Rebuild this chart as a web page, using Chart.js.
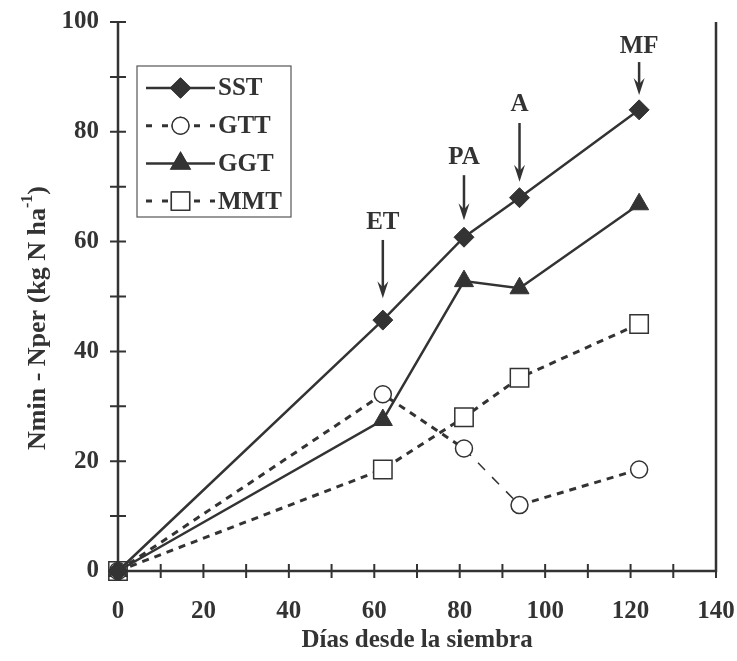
<!DOCTYPE html>
<html>
<head>
<meta charset="utf-8">
<script src="https://cdn.jsdelivr.net/npm/chart.js@4.4.0/dist/chart.umd.min.js"></script>
<style>
  html, body { margin: 0; padding: 0; background: #fff; }
  #wrap { width: 737px; height: 661px; }
</style>
</head>
<body>
<div id="wrap"><canvas id="nChart"></canvas></div>
<script>
// data
const days = [0, 62, 81, 94, 122];
const sst = [0, 45.7, 60.8, 68.0, 84.0];
const gtt = [0, 32.2, 22.3, 12.0, 18.5];
const ggt = [0, 27.5, 52.8, 51.5, 66.8];
const mmt = [0, 18.5, 28.0, 35.2, 45.0];

// growth stages marked with arrows
const stageLabels = ['ET', 'PA', 'A', 'MF'];
const stageDays = [62, 81, 94, 122];
const stageTip = [49.7, 63.9, 70.9, 86.7];
const stageTail = [60.3, 72.1, 81.6, 92.7];
const stageText = [63.4, 75.4, 85.0, 95.6];

const ink = '#333333';
const serif = '"Liberation Serif", "Times New Roman", serif';

function pts(vals) {
    return days.map((d, i) => ({ x: d, y: vals[i] }));
}

// axis frame with ticks crossing the axis lines
const framePlugin = {
    id: 'frame',
    beforeDatasetsDraw(chart) {
        const { ctx, chartArea: a, scales: { x, y } } = chart;
        ctx.save();
        ctx.strokeStyle = ink;
        ctx.lineWidth = 2.5;
        ctx.beginPath();
        ctx.moveTo(a.left, a.top);
        ctx.lineTo(a.left, a.bottom);
        ctx.lineTo(a.right, a.bottom);
        ctx.lineTo(a.right, a.top);
        ctx.stroke();
        ctx.lineWidth = 2;
        ctx.beginPath();
        x.ticks.forEach(t => {
            const px = x.getPixelForValue(t.value);
            ctx.moveTo(px, a.bottom - 7);
            ctx.lineTo(px, a.bottom + 7);
        });
        y.ticks.forEach(t => {
            const py = y.getPixelForValue(t.value);
            ctx.moveTo(a.left - 8, py);
            ctx.lineTo(a.left + 8, py);
        });
        ctx.stroke();
        ctx.restore();
    },
    afterDraw(chart) {
        const { ctx, chartArea: a, scales: { x, y } } = chart;
        ctx.save();
        ctx.fillStyle = ink;
        ctx.strokeStyle = ink;

        // y axis title with superscript
        const big = 'bold 26px ' + serif;
        const small = 'bold 16px ' + serif;
        const p1 = 'Nmin - Nper (kg N ha', p2 = '-1', p3 = ')';
        ctx.font = big;
        const w1 = ctx.measureText(p1).width, w3 = ctx.measureText(p3).width;
        ctx.font = small;
        const w2 = ctx.measureText(p2).width;
        const total = w1 + w2 + w3;
        ctx.translate(38, 318);
        ctx.rotate(-Math.PI / 2);
        ctx.textBaseline = 'middle';
        ctx.textAlign = 'left';
        let cx = -total / 2;
        ctx.font = big;
        ctx.fillText(p1, cx, 0);
        cx += w1;
        ctx.font = small;
        ctx.fillText(p2, cx, -10);
        cx += w2;
        ctx.font = big;
        ctx.fillText(p3, cx, 0);
        ctx.setTransform(1, 0, 0, 1, 0, 0);

        // stage arrows
        ctx.font = 'bold 25px ' + serif;
        ctx.textAlign = 'center';
        ctx.textBaseline = 'middle';
        ctx.lineWidth = 2.5;
        stageLabels.forEach((lab, i) => {
            const px = x.getPixelForValue(stageDays[i]);
            const tip = y.getPixelForValue(stageTip[i]);
            const tail = y.getPixelForValue(stageTail[i]);
            ctx.beginPath();
            ctx.moveTo(px, tail);
            ctx.lineTo(px, tip - 8);
            ctx.stroke();
            ctx.beginPath();
            ctx.moveTo(px, tip);
            ctx.lineTo(px - 5.5, tip - 17);
            ctx.lineTo(px, tip - 11);
            ctx.lineTo(px + 5.5, tip - 17);
            ctx.closePath();
            ctx.fill();
            ctx.fillText(lab, px, y.getPixelForValue(stageText[i]));
        });

        // legend box
        const bx = 137, by = 66, bw = 154, bh = 151;
        ctx.lineWidth = 1.2;
        ctx.strokeStyle = '#555';
        ctx.strokeRect(bx, by, bw, bh);
        ctx.strokeStyle = ink;
        chart.data.datasets.forEach((ds, i) => {
            const ly = 88 + i * 37.7;
            ctx.save();
            ctx.lineWidth = ds.borderWidth;
            if (ds.borderDash) {
                ctx.setLineDash([6, 10]);
            }
            ctx.beginPath();
            ctx.moveTo(146, ly);
            ctx.lineTo(215, ly);
            ctx.stroke();
            ctx.restore();
            Chart.helpers.drawPoint(ctx, {
                pointStyle: ds.pointStyle,
                radius: ds.pointRadius,
                borderWidth: ds.pointBorderWidth,
                rotation: 0
            }, 180.5, ly);
            ctx.fillStyle = ds.pointBackgroundColor;
            ctx.strokeStyle = ink;
            ctx.lineWidth = ds.pointBorderWidth;
            ctx.fill();
            ctx.stroke();
            ctx.fillStyle = ink;
            ctx.textAlign = 'left';
            ctx.font = 'bold 25px ' + serif;
            ctx.fillText(ds.label, 218, ly + 1);
        });
        ctx.restore();
    }
};

const ctx = document.getElementById('nChart').getContext('2d');
const nChart = new Chart(ctx, {
    type: 'line',
    data: {
        datasets: [{
            label: 'SST',
            data: pts(sst),
            borderColor: ink,
            borderWidth: 2.5,
            pointStyle: 'rectRot',
            pointRadius: 10,
            pointBackgroundColor: ink,
            pointBorderColor: ink,
            pointBorderWidth: 1
        }, {
            label: 'GTT',
            data: pts(gtt),
            borderColor: ink,
            borderWidth: 3,
            borderDash: [7, 6],
            // the 81 -> 94 stretch is drawn thinner in the original
            segment: {
                borderWidth: c => (c.p0DataIndex === 2 ? 1.5 : undefined),
                borderDash: c => (c.p0DataIndex === 2 ? [10, 10] : undefined)
            },
            pointStyle: 'circle',
            pointRadius: 8.5,
            pointBackgroundColor: '#ffffff',
            pointBorderColor: ink,
            pointBorderWidth: 1.5
        }, {
            label: 'GGT',
            data: pts(ggt),
            borderColor: ink,
            borderWidth: 2.5,
            pointStyle: 'triangle',
            pointRadius: 11,
            pointBackgroundColor: ink,
            pointBorderColor: ink,
            pointBorderWidth: 1
        }, {
            label: 'MMT',
            data: pts(mmt),
            borderColor: ink,
            borderWidth: 3,
            borderDash: [7, 6],
            pointStyle: 'rect',
            pointRadius: 13,
            pointBackgroundColor: '#ffffff',
            pointBorderColor: ink,
            pointBorderWidth: 1.5
        }]
    },
    options: {
        responsive: true,
        maintainAspectRatio: false,
        devicePixelRatio: 1,
        animation: false,
        clip: false,
        layout: { padding: { top: 22, right: 21, left: 0, bottom: 0 } },
        plugins: {
            legend: { display: false },
            tooltip: { enabled: false }
        },
        scales: {
            x: {
                type: 'linear',
                min: 0,
                max: 140,
                grid: { display: false },
                border: { display: false },
                afterFit: s => {
                    s.height = 90;
                    s.paddingLeft = 0;
                    s.paddingRight = 0;
                },
                ticks: {
                    stepSize: 10,
                    padding: 18,
                    color: ink,
                    maxRotation: 0,
                    autoSkip: false,
                    font: { family: serif, size: 25, weight: 'bold' },
                    callback: v => (v % 20 === 0 ? v : '')
                },
                title: {
                    display: true,
                    text: 'Días desde la siembra',
                    color: ink,
                    font: { family: serif, size: 25, weight: 'bold' },
                    padding: { top: 0, bottom: 5 }
                }
            },
            y: {
                min: 0,
                max: 100,
                grid: { display: false },
                border: { display: false },
                afterFit: s => {
                    s.width = 118;
                    s.paddingTop = 0;
                    s.paddingBottom = 0;
                },
                ticks: {
                    stepSize: 10,
                    padding: 11,
                    color: ink,
                    autoSkip: false,
                    font: { family: serif, size: 25, weight: 'bold' },
                    callback: v => (v % 20 === 0 ? v : '')
                }
            }
        }
    },
    plugins: [framePlugin]
});
</script>
</body>
</html>
